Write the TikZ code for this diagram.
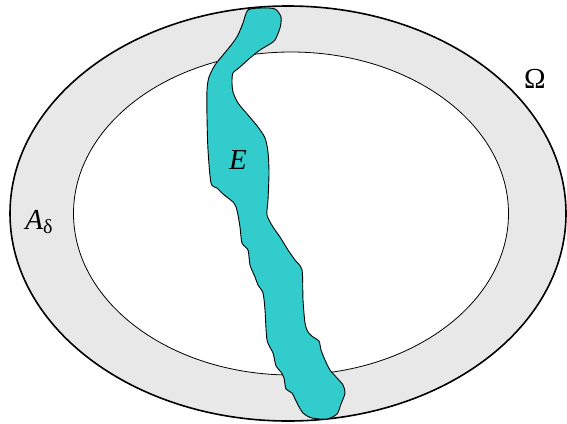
\documentclass[tikz,border=0pt]{standalone}
\usepackage{fontspec}
\setmainfont{Liberation Serif}
\usetikzlibrary{
  positioning,
}
\definecolor{border}{HTML}{000000}
\definecolor{fillRing}{HTML}{E8E8E8}
\definecolor{fillSet}{HTML}{33CCCC}
\tikzset{
  outerline/.style={draw=border, line width=1.6pt, fill=fillRing},
  innerline/.style={draw=border, line width=0.8pt, fill=white},
  setline/.style={draw=border, line width=0.9pt, fill=fillSet, line join=round},
  label/.style={font=\fontsize{29}{30}\selectfont, inner sep=0pt},
}

\begin{document}
\begin{tikzpicture}[x=1pt, y=-1pt]

  \useasboundingbox (0,0) rectangle (567,423);

  % Domain and inner region
  \draw[outerline] (288,213.5) ellipse [x radius=278, y radius=207.5];
  \draw[innerline] (291,213.5) ellipse [x radius=217.5, y radius=161.5];

  % The set E
  \draw[setline] plot[smooth cycle, tension=0.45] coordinates {
    (248,10) (262,8) (275,9) (281,17) (280,28) (275,40) (270,44)
    (260,50) (250,58) (240,67) (233,73) (232,82) (233,92) (238,103)
    (248,115) (258,127) (265,138) (268,152) (269,173) (268,200)
    (267,215) (273,227) (280,237) (288,250) (295,260) (302,270)
    (303,300) (305,323) (308,332) (313,337) (319,341) (321,350)
    (325,360) (330,370) (337,378) (343,385) (345,393) (341,404)
    (337,414) (327,419) (312,418) (303,413) (297,403) (292,393)
    (286,389) (284,378) (281,372) (276,366) (273,353) (267,340)
    (265,310) (263,293) (258,285) (255,277) (250,265) (248,250)
    (242,243) (240,227) (238,215) (236,207) (233,202) (223,194)
    (217,188) (211,183) (208,150) (207,117) (207,90) (209,77)
    (215,65) (223,55) (232,44) (238,35) (243,23)
  };

  % Labels
  \node[label] (setE) at (238,160) {\textit{E}};
  \node[label] (ring) at (39,222) {\textit{A}\raisebox{-0.25ex}{\fontsize{20}{20}\selectfont δ}};
  \node[label] (domain) at (535,79) {Ω};

\end{tikzpicture}
\end{document}
